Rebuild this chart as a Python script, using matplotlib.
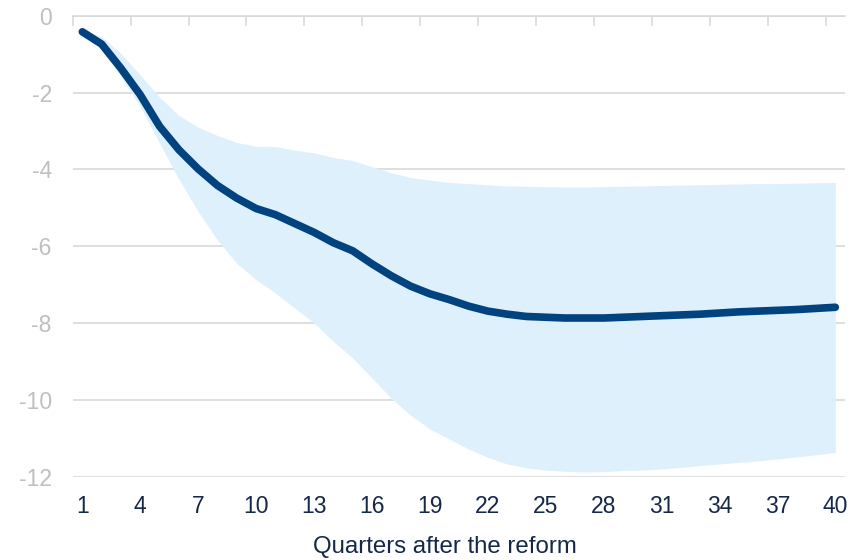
import matplotlib
matplotlib.use("Agg")
import matplotlib.pyplot as plt
from matplotlib.ticker import FixedLocator

plt.rcParams["font.family"] = ["Liberation Sans", "DejaVu Sans"]

quarters = list(range(1, 41))

# Central estimate of the response (percent)
response = [-0.42, -0.74, -1.37, -2.06, -2.88, -3.49, -3.99, -4.42, -4.75, -5.02,
            -5.18, -5.41, -5.64, -5.91, -6.12, -6.46, -6.77, -7.04, -7.24, -7.39,
            -7.56, -7.69, -7.77, -7.83, -7.85, -7.87, -7.87, -7.87, -7.85, -7.83,
            -7.81, -7.79, -7.77, -7.74, -7.71, -7.69, -7.67, -7.65, -7.62, -7.59]

# Confidence band bounds
upper = [-0.35, -0.55, -0.98, -1.54, -2.12, -2.60, -2.90, -3.12, -3.30, -3.40,
         -3.41, -3.50, -3.57, -3.69, -3.77, -3.93, -4.09, -4.21, -4.28, -4.34,
         -4.37, -4.40, -4.43, -4.44, -4.45, -4.46, -4.46, -4.45, -4.44, -4.43,
         -4.42, -4.41, -4.40, -4.39, -4.38, -4.37, -4.37, -4.36, -4.35, -4.34]

lower = [-0.45, -0.89, -1.58, -2.37, -3.32, -4.25, -5.10, -5.84, -6.45, -6.87,
         -7.22, -7.61, -8.00, -8.48, -8.91, -9.43, -9.96, -10.40, -10.76, -11.02,
         -11.28, -11.50, -11.67, -11.77, -11.83, -11.86, -11.88, -11.87, -11.84, -11.83,
         -11.80, -11.76, -11.71, -11.67, -11.63, -11.59, -11.54, -11.49, -11.43, -11.37]

x_ticks = list(range(1, 41, 3))
y_ticks = [0, -2, -4, -6, -8, -10, -12]

fig = plt.figure(figsize=(8.53, 5.60), dpi=100)
ax = fig.add_axes([0.0852, 0.1488, 0.9054, 0.8232])

ax.fill_between(quarters, lower, upper, color="#dff0fd", linewidth=0, zorder=1)
ax.plot(quarters, response, color="#00437f", linewidth=5.5,
        solid_capstyle="round", solid_joinstyle="round", zorder=3)

ax.set_xlim(0.5, 40.5)
ax.set_ylim(-12, 0)

for spine in ["left", "right", "bottom"]:
    ax.spines[spine].set_visible(False)
ax.spines["top"].set_color("#d9d9d9")
ax.spines["top"].set_linewidth(1.2)

ax.set_yticks(y_ticks)
ax.set_yticklabels([str(v) for v in y_ticks])
ax.yaxis.grid(True, color="#d9d9d9", linewidth=1.2, zorder=0)
ax.set_axisbelow(True)

ax.set_xticks(x_ticks)
ax.set_xticklabels([str(v) for v in x_ticks])
ax.xaxis.set_minor_locator(FixedLocator([0.5 + 3 * k for k in range(14)]))

ax.tick_params(axis="y", length=0, pad=15, labelsize=16.5, labelcolor="#bfbfbf")
ax.tick_params(axis="x", which="major", length=0, pad=13, labelsize=16.5,
               labelcolor="#16284a")
ax.tick_params(axis="x", which="minor", top=True, bottom=False, direction="in",
               length=7, width=1.2, color="#d9d9d9")

fig.text(0.522, 0.023, "Quarters after the reform", ha="center", va="center",
         fontsize=17.3, color="#16284a")

fig.savefig("out.png", dpi=100)
